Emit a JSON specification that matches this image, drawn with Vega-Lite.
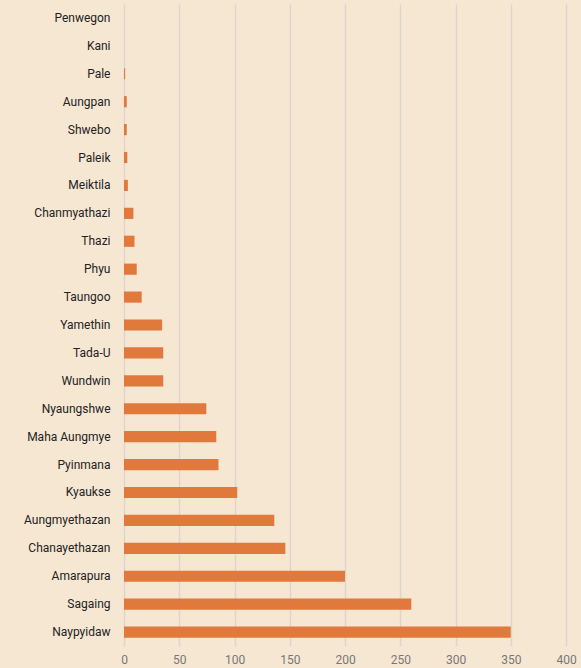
{
  "$schema": "https://vega.github.io/schema/vega-lite/v6.json",
  "autosize": "none",
  "padding": {"left": 124, "top": 4, "right": 15, "bottom": 22},
  "width": 442,
  "height": 642,
  "background": "#f6e7d3",
  "config": {"view": {"stroke": null}, "font": "Roboto"},
  "data": {"values": [
    {"township": "Penwegon", "value": 0},
    {"township": "Kani", "value": 0},
    {"township": "Pale", "value": 1},
    {"township": "Aungpan", "value": 2.5},
    {"township": "Shwebo", "value": 2.5},
    {"township": "Paleik", "value": 3},
    {"township": "Meiktila", "value": 3.5},
    {"township": "Chanmyathazi", "value": 8.5},
    {"township": "Thazi", "value": 9.5},
    {"township": "Phyu", "value": 11.5},
    {"township": "Taungoo", "value": 16},
    {"township": "Yamethin", "value": 34.5},
    {"township": "Tada-U", "value": 35.5},
    {"township": "Wundwin", "value": 35.5},
    {"township": "Nyaungshwe", "value": 74.5},
    {"township": "Maha Aungmye", "value": 83.5},
    {"township": "Pyinmana", "value": 85.5},
    {"township": "Kyaukse", "value": 102.5},
    {"township": "Aungmyethazan", "value": 136},
    {"township": "Chanayethazan", "value": 146},
    {"township": "Amarapura", "value": 200},
    {"township": "Sagaing", "value": 260},
    {"township": "Naypyidaw", "value": 350}
  ]},
  "mark": {"type": "bar", "color": "#e0793b"},
  "encoding": {
    "y": {
      "field": "township", "type": "nominal", "sort": null,
      "scale": {"paddingInner": 0.6, "paddingOuter": 0.3},
      "axis": {"title": null, "domain": false, "ticks": false, "labelPadding": 14,
               "labelFontSize": 12, "labelColor": "#222222", "grid": false}
    },
    "x": {
      "field": "value", "type": "quantitative",
      "scale": {"domain": [0, 400], "nice": false},
      "axis": {"title": null, "domain": false, "ticks": false,
               "values": [0, 50, 100, 150, 200, 250, 300, 350, 400],
               "labelOverlap": false, "labelFlush": false,
               "labelColor": "#777777", "labelFontSize": 12, "labelPadding": 8,
               "grid": true, "gridColor": "#ddd5cb", "gridWidth": 1.5}
    }
  }
}
